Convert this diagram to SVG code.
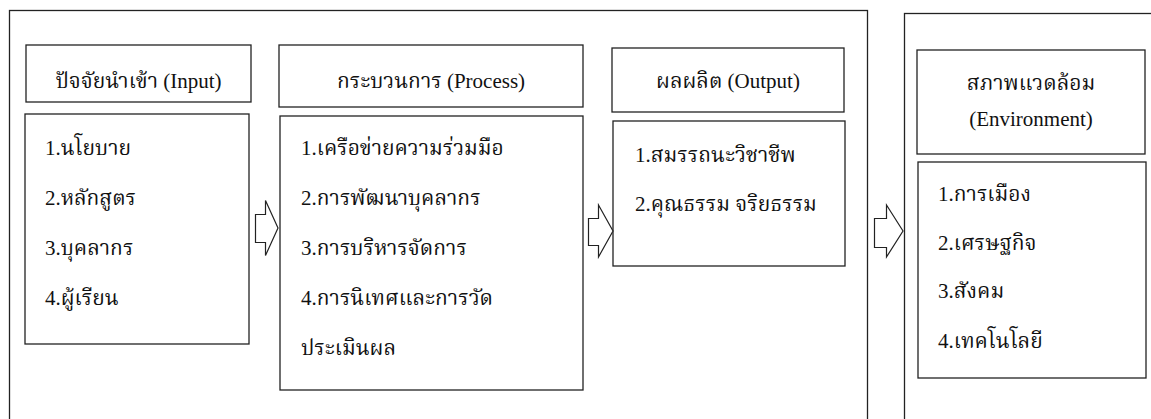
<svg xmlns="http://www.w3.org/2000/svg" width="1151" height="419" viewBox="0 0 1151 419">
<style>
.frame{fill:none;stroke:#222;stroke-width:1.3}
.box{fill:#fff;stroke:#222;stroke-width:1.3}
.arrow{fill:#fff;stroke:#222;stroke-width:1.2;stroke-linejoin:miter}
text{font-family:"Liberation Serif","Noto Serif Thai","Noto Sans Thai",serif;font-size:21px;fill:#111}
.c{text-anchor:middle}
</style>
<rect width="1151" height="419" fill="#fff"/>
<g id="frames">
<rect class="frame" x="9.5" y="10.5" width="858" height="500"/>
<rect class="frame" x="904.5" y="13.5" width="400" height="500"/>
</g>
<g id="input-header"><rect class="box" x="26" y="45" width="225" height="57"/><text class="c" x="138.5" y="88">ปัจจัยนำเข้า (Input)</text></g>
<g id="input-body"><rect class="box" x="25" y="114" width="224" height="230"/>
<text x="45" y="155">1.นโยบาย</text><text x="45" y="205">2.หลักสูตร</text><text x="45" y="255">3.บุคลากร</text><text x="45" y="305">4.ผู้เรียน</text></g>
<g id="process-header"><rect class="box" x="279" y="45" width="304" height="62"/><text class="c" x="431" y="88">กระบวนการ (Process)</text></g>
<g id="process-body"><rect class="box" x="280" y="116" width="303" height="274"/>
<text x="301" y="155">1.เครือข่ายความร่วมมือ</text><text x="301" y="205">2.การพัฒนาบุคลากร</text><text x="301" y="255">3.การบริหารจัดการ</text><text x="301" y="305">4.การนิเทศและการวัด</text><text x="301" y="355">ประเมินผล</text></g>
<g id="output-header"><rect class="box" x="612" y="48" width="232" height="64"/><text class="c" x="728" y="88">ผลผลิต (Output)</text></g>
<g id="output-body"><rect class="box" x="613" y="121" width="232" height="145"/>
<text x="635" y="162">1.สมรรถนะวิชาชีพ</text><text x="635" y="211">2.คุณธรรม จริยธรรม</text></g>
<g id="env-header"><rect class="box" x="917" y="50" width="228" height="104"/><text class="c" x="1031" y="90">สภาพแวดล้อม</text><text class="c" x="1031" y="126">(Environment)</text></g>
<g id="env-body"><rect class="box" x="918" y="162" width="228" height="216"/>
<text x="938" y="201">1.การเมือง</text><text x="938" y="250">2.เศรษฐกิจ</text><text x="938" y="298">3.สังคม</text><text x="938" y="348">4.เทคโนโลยี</text></g>
<g id="connectors">
<path class="arrow" d="M255.5 214.5H265.5V200.5L278 228L265.5 255.5V242.5H255.5Z"/>
<path class="arrow" d="M588.5 218.5H598.5V205L613 231L598.5 257V245.5H588.5Z"/>
<path class="arrow" d="M874.5 218.5H886.5V205L903 231L886.5 257V247.5H874.5Z"/>
</g>
</svg>
